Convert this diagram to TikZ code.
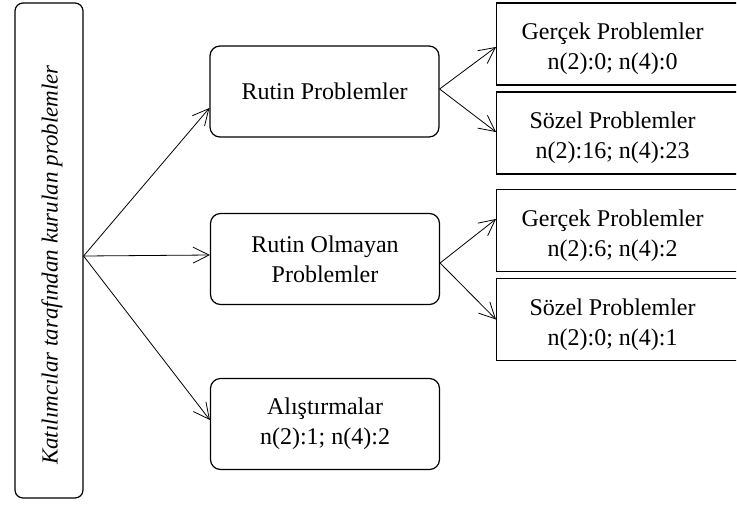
\documentclass[tikz,border=0pt]{standalone}
\usepackage{fontspec}
\setmainfont{Liberation Serif}
\usetikzlibrary{arrows.meta,positioning}

\begin{document}
\begin{tikzpicture}[x=0.5pt, y=-0.5pt, font=\fontsize{12}{15}\selectfont,
  >={Straight Barb[length=8pt,width=8pt]},
  yuvarlak/.style={draw, line width=0.6pt, rounded corners=5pt, align=center, minimum width=114.5pt, minimum height=45.5pt},
  kutu/.style={draw, line width=0.6pt, anchor=west, minimum width=200pt, minimum height=41pt},
  yazi/.style={align=center, xshift=-42pt, yshift=-2.5pt},
  ok/.style={->, line width=0.4pt}]
\useasboundingbox (0,0) rectangle (737,504);
\clip (0,0) rectangle (736,504);
\node[draw, line width=0.6pt, rounded corners=4pt, minimum width=34pt, minimum height=247.5pt] (katilim) at (49,250.5) {};
\node[rotate=90, font=\fontsize{11.5}{15}\selectfont\itshape] (katilimyazi) at (52,265) {Katılımcılar tarafından kurulan problemler};
\node[yuvarlak] (rutin) at (324.5,91.5) {Rutin Problemler};
\node[yuvarlak] (olmayan) at (325,259) {Rutin Olmayan\\Problemler};
\node[yuvarlak] (alistirma) at (325,424) {Alıştırmalar\\n(2):1; n(4):2};
\node[kutu, label={[yazi]center:{Gerçek Problemler\\n(2):0; n(4):0}}] (gercek1) at (496,44) {};
\node[kutu, label={[yazi]center:{Sözel Problemler\\n(2):16; n(4):23}}] (sozel1) at (496,133) {};
\node[kutu, label={[yazi]center:{Gerçek Problemler\\n(2):6; n(4):2}}] (gercek2) at (496,230.5) {};
\node[kutu, label={[yazi]center:{Sözel Problemler\\n(2):0; n(4):1}}] (sozel2) at (496,319.5) {};
\path[ok] ([yshift=-2.75pt]katilim.east) edge ([yshift=-8.25pt]rutin.west)
  ([yshift=-2.75pt]katilim.east) edge ([yshift=2pt]olmayan.west)
  ([yshift=-2.75pt]katilim.east) edge ([yshift=2pt]alistirma.west);
\path[ok] ([yshift=1.25pt]rutin.east) edge ([yshift=-1.5pt]gercek1.west)
  ([yshift=1.25pt]rutin.east) edge ([yshift=0.5pt]sozel1.west)
  ([yshift=-2pt]olmayan.east) edge ([yshift=5.75pt]gercek2.west)
  ([yshift=-2pt]olmayan.east) edge (sozel2.west);
\end{tikzpicture}
\end{document}
